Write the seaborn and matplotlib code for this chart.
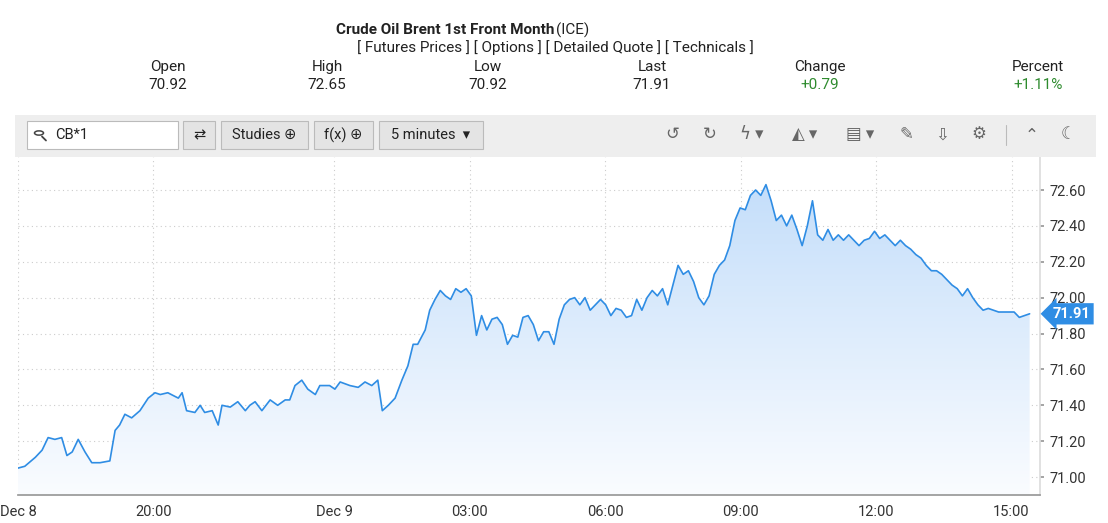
import matplotlib
matplotlib.use("Agg")
import matplotlib.pyplot as plt
import seaborn as sns
import numpy as np
import pandas as pd
from matplotlib.patches import FancyBboxPatch, Rectangle, Circle, Polygon
from matplotlib.lines import Line2D

sns.set_theme(style="white")
plt.rcParams['font.family'] = ['Roboto', 'DejaVu Sans']

# price samples, Dec 8 17:00 -> Dec 9 15:25
prices = [71.05,71.06,71.11,71.15,71.22,71.21,71.22,71.12,71.14,71.21,71.14,71.08,71.08,71.09,
          71.26,71.29,71.35,71.33,71.37,71.44,71.47,71.46,71.47,71.44,71.47,71.37,71.36,71.40,
          71.36,71.37,71.29,71.40,71.39,71.42,71.37,71.40,71.42,71.37,71.43,71.40,71.43,71.43,
          71.51,71.54,71.49,71.46,71.51,71.51,71.49,71.53,71.51,71.50,71.53,71.51,71.54,71.37,
          71.40,71.44,71.54,71.62,71.74,71.74,71.82,71.93,71.99,72.04,72.01,71.99,72.05,72.03,
          72.05,72.01,71.79,71.90,71.82,71.88,71.89,71.85,71.74,71.79,71.78,71.89,71.90,71.85,
          71.76,71.81,71.81,71.74,71.88,71.96,71.99,72.00,71.96,72.00,71.93,71.96,71.99,71.96,
          71.90,71.94,71.93,71.89,71.90,71.99,71.93,72.00,72.04,72.01,72.05,71.96,72.07,72.18,
          72.13,72.15,72.09,72.00,71.96,72.01,72.13,72.18,72.21,72.29,72.43,72.50,72.49,72.57,
          72.60,72.57,72.63,72.54,72.43,72.46,72.40,72.46,72.38,72.29,72.40,72.54,72.35,72.32,
          72.38,72.32,72.35,72.32,72.35,72.32,72.29,72.32,72.33,72.37,72.33,72.35,72.32,72.29,
          72.32,72.29,72.27,72.24,72.22,72.18,72.15,72.15,72.13,72.10,72.07,72.05,72.01,72.05,
          72.00,71.96,71.93,71.94,71.93,71.92,71.92,71.92,71.92,71.89,71.90,71.91]
# minutes after Dec 8 17:00 for the first samples; later samples are evenly spaced
early_minutes = [0,9,23,32,40,49,58,65,72,80,89,98,109,122,129,135,142,151,162,173,182,189,199,
                 213,218,224,235,242,248,258,266,271,282,292,302,308,315,324,335,345,355,361,368,
                 377,385,395,401,414,421,428,441,452,461,470,478,484,492,501,510,518,525,531,541,
                 547,554]
late_start_min, end_min = 561, 1344
start_hour = 17.0
tick_hours = [17, 20, 24, 27, 30, 33, 36, 39]
tick_labels = ["Dec 8", "20:00", "Dec 9", "03:00", "06:00", "09:00", "12:00", "15:00"]
y_ticks = [71.00, 71.20, 71.40, 71.60, 71.80, 72.00, 72.20, 72.40, 72.60]
header_labels = ["Open", "High", "Low", "Last", "Change", "Percent"]
header_values = ["70.92", "72.65", "70.92", "71.91", "+0.79", "+1.11%"]
last_price = 71.91

n_late = len(prices) - len(early_minutes)
minutes = np.concatenate([early_minutes, np.linspace(late_start_min, end_min, n_late)])
hours = start_hour + minutes / 60
df = pd.DataFrame({"h": hours, "p": prices})

W, H = 1108, 523
fig = plt.figure(figsize=(W/100, H/100), dpi=100)
fig.patch.set_facecolor("white")
def fx(x): return x / W
def fy(y): return 1 - y / H

# header
fig.text(fx(554), fy(30), "Crude Oil Brent 1st Front Month", ha="right", va="center",
         fontsize=11, fontweight="bold", color="#222")
fig.text(fx(556), fy(30), "(ICE)", ha="left", va="center", fontsize=11, color="#222")
fig.text(fx(555), fy(48), "[ Futures Prices ] [ Options ] [ Detailed Quote ] [ Technicals ]",
         ha="center", va="center", fontsize=11, color="#222")
hx = [168, 327, 488, 652, 820, 1038]
for x, lab, val in zip(hx, header_labels, header_values):
    col = "#2e8b2e" if val.startswith("+") else "#222"
    fig.text(fx(x), fy(67), lab, ha="center", va="center", fontsize=11, color="#222")
    fig.text(fx(x), fy(85), val, ha="center", va="center", fontsize=11, color=col)

# toolbar
fig.patches.append(Rectangle((fx(15), fy(157)), fx(1081), (157-115)/H,
                             transform=fig.transFigure, facecolor="#eeeeee", edgecolor="none"))
def btn(x0, x1, text, white=False, tx=None):
    fig.patches.append(FancyBboxPatch((fx(x0), fy(149)), fx(x1-x0), 28/H,
                       boxstyle="square,pad=0", transform=fig.transFigure,
                       facecolor="white" if white else "#e4e4e4", edgecolor="#bbbbbb", lw=0.8))
    if text:
        fig.text(fx(tx if tx else (x0+x1)/2), fy(135), text,
                 ha="left" if tx else "center", va="center", fontsize=10.5, color="#222")
btn(27, 178, "CB*1", white=True, tx=55)
fig.patches.append(Circle((fx(39), fy(133)), 4.5/W, transform=fig.transFigure,
                          fill=False, ec="#444", lw=1.1))
fig.lines.append(Line2D([fx(42), fx(46)], [fy(136.5), fy(140.5)], transform=fig.transFigure,
                        color="#444", lw=1.3))
btn(183, 215, "⇄")
btn(221, 308, "Studies ⊕")
btn(314, 373, "f(x) ⊕")
btn(379, 483, "5 minutes  ▾")
for x, s in zip([672, 710, 752, 805, 860, 906, 942, 979, 1032, 1068],
                ["↺", "↻", "ϟ ▾", "◭ ▾", "▤ ▾", "✎", "⇩", "⚙", "⌃", "☾"]):
    fig.text(fx(x), fy(135), s, ha="center", va="center", fontsize=12, color="#666")
fig.lines.append(Line2D([fx(1006), fx(1006)], [fy(125), fy(145)], transform=fig.transFigure,
                        color="#bbb", lw=0.8))

# chart
ax = fig.add_axes([fx(18), fy(495), fx(1040-18), (495-157)/H])
y0, y1 = 70.90, 72.784
x0, x1 = start_hour, 39.63
grad = np.linspace(0, 1, 256).reshape(-1, 1)
from matplotlib.colors import LinearSegmentedColormap
cmap = LinearSegmentedColormap.from_list("g", ["#fafcff", "#c4defa"])
im = ax.imshow(grad, extent=[x0, x1, y0, 72.65], origin="lower", aspect="auto", cmap=cmap, zorder=1)
poly = Polygon(np.column_stack([np.r_[hours[0], hours, hours[-1]], np.r_[y0, prices, y0]]),
               closed=True, transform=ax.transData, fc="none", ec="none")
ax.add_patch(poly)
im.set_clip_path(poly)
sns.lineplot(data=df, x="h", y="p", ax=ax, color="#2f8de4", lw=1.2, zorder=3)
ax.set_xlim(x0, x1)
ax.set_ylim(y0, y1)
ax.set_xticks(tick_hours)
ax.set_xticklabels(tick_labels, fontsize=10.5, color="#333")
ax.yaxis.tick_right()
ax.set_yticks(y_ticks)
ax.set_yticklabels([f"{v:.2f}" for v in y_ticks], fontsize=10.5, color="#333")
ax.grid(True, ls=(0, (1, 3)), color="#cccccc", lw=0.8)
ax.set_axisbelow(True)
ax.set_xlabel(""); ax.set_ylabel("")
for s in ["top", "left"]:
    ax.spines[s].set_visible(False)
ax.spines["bottom"].set_color("#999")
ax.spines["right"].set_color("#dddddd")
ax.tick_params(axis="both", length=3, color="#999", pad=4)
ax.text(1.012, (last_price-y0)/(y1-y0), f"{last_price:.2f}", transform=ax.transAxes,
        ha="left", va="center", fontsize=10.5, fontweight="bold", color="white",
        bbox=dict(boxstyle="larrow,pad=0.25", fc="#2f8de4", ec="none"))

fig.savefig("out.png", dpi=100)
